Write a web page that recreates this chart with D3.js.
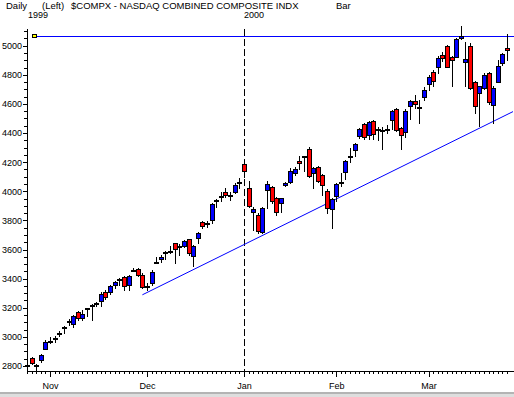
<!DOCTYPE html>
<html>
<head>
<meta charset="utf-8">
<script src="https://d3js.org/d3.v7.min.js"></script>
<style>
  body { margin: 0; background: #fff; }
  svg { display: block; font-family: "Liberation Sans", Arial, sans-serif; }
  text { fill: #000; }
</style>
</head>
<body>
<svg id="chart" width="514" height="397"></svg>
<script>
const firstDay = "1999-10-25",
lastDay = "2000-03-24";

// market holidays, plus Dec 30 which has no bar on this chart
const closedDays = ["1999-11-25", "1999-12-24", "1999-12-30", "2000-01-17", "2000-02-21"];

const open = [2805, 2853, 2810, 2837, 2920, 2972, 2990, 3025, 3064, 3110,
  3084, 3171, 3130, 3196, 3221, 3233, 3245, 3310, 3310, 3358,
  3399, 3414, 3358, 3461, 3464, 3428, 3349, 3375, 3516, 3533,
  3585, 3589, 3643, 3624, 3627, 3670, 3556, 3677, 3787, 3784,
  3799, 3940, 3967, 3998, 3974, 3994, 4066, 4188, 4021, 3856,
  3838, 3716, 4005, 4028, 3952, 3918, 4049, 4062, 4124, 4209,
  4238, 4289, 4129, 4170, 4113, 4005, 3877, 3966, 4066, 4136,
  4242, 4280, 4376, 4461, 4392, 4486, 4430, 4421, 4426, 4491,
  4564, 4433, 4411, 4589, 4621, 4577, 4651, 4736, 4818, 4853,
  4937, 4995, 4925, 4921, 5055, 4885, 4999, 4754, 4670, 4708,
  4811, 4589, 4754, 4880, 4983];

const high = [2820, 2862, 2814, 2881, 2980, 2998, 3008, 3042, 3075, 3125,
  3150, 3181, 3185, 3201, 3229, 3243, 3305, 3319, 3358, 3383,
  3407, 3419, 3427, 3473, 3473, 3437, 3373, 3460, 3551, 3563,
  3590, 3625, 3645, 3636, 3666, 3675, 3632, 3723, 3799, 3797,
  3923, 3946, 3998, 4021, 3998, 4055, 4090, 4192, 4071, 3895,
  3849, 3890, 4071, 4037, 3964, 3955, 4067, 4159, 4170, 4239,
  4242, 4307, 4170, 4175, 4120, 4014, 3952, 4056, 4124, 4216,
  4296, 4330, 4433, 4468, 4484, 4491, 4440, 4440, 4456, 4560,
  4571, 4440, 4564, 4628, 4663, 4628, 4713, 4800, 4834, 4926,
  4960, 5006, 4930, 5052, 5132, 5022, 5018, 4759, 4724, 4811,
  4818, 4720, 4903, 4949, 5080];

const low = [2795, 2812, 2768, 2825, 2915, 2957, 2968, 3008, 3026, 3084,
  3070, 3118, 3118, 3145, 3118, 3215, 3215, 3261, 3293, 3333,
  3354, 3319, 3319, 3450, 3418, 3333, 3322, 3357, 3506, 3517,
  3533, 3574, 3510, 3563, 3616, 3563, 3487, 3643, 3746, 3758,
  3780, 3895, 3934, 3964, 3941, 3987, 4021, 4100, 3895, 3735,
  3712, 3712, 3884, 3923, 3838, 3856, 4039, 4055, 4113, 4154,
  4136, 4097, 4021, 4067, 3975, 3854, 3746, 3930, 4033, 4083,
  4204, 4239, 4369, 4358, 4360, 4358, 4353, 4289, 4399, 4427,
  4417, 4289, 4376, 4495, 4575, 4468, 4628, 4697, 4720, 4812,
  4892, 4853, 4724, 4921, 5045, 4720, 4705, 4541, 4449, 4700,
  4600, 4468, 4750, 4869, 4903];

const close = [2808, 2818, 2809, 2874, 2966, 2973, 2991, 3026, 3065, 3111,
  3141, 3130, 3160, 3197, 3222, 3234, 3296, 3273, 3351, 3376,
  3400, 3349, 3420, 3462, 3425, 3344, 3350, 3448, 3517, 3549,
  3586, 3590, 3602, 3625, 3659, 3574, 3625, 3712, 3762, 3785,
  3911, 3941, 3968, 3980, 3975, 4044, 4067, 4138, 3900, 3879,
  3728, 3884, 4049, 3929, 3856, 3952, 4060, 4136, 4154, 4193,
  4239, 4106, 4163, 4074, 4044, 3891, 3946, 4051, 4067, 4209,
  4243, 4323, 4427, 4369, 4479, 4399, 4431, 4422, 4427, 4553,
  4422, 4383, 4553, 4621, 4598, 4578, 4697, 4784, 4754, 4915,
  4915, 4853, 4903, 5045, 5066, 4907, 4713, 4587, 4720, 4800,
  4612, 4708, 4864, 4942, 4967];

const priceTicks = [2800, 3000, 3200, 3400, 3600, 3800, 4000, 4200, 4400, 4600, 4800, 5000];
const minorStep = 50;

// drawn lines: resistance from late Oct, support from Nov 30 through Mar 24
const resistance = {start: "1999-10-26", price: 5066};
const trendStart = {date: "1999-11-30", price: 3289},
trendEnd = {date: "2000-03-24", price: 4527};

const headerText = ["Daily", "(Left)", "$COMPX - NASDAQ COMBINED COMPOSITE INDX", "Bar"];

const parseDay = d3.timeParse("%Y-%m-%d"),
fmtDay = d3.timeFormat("%Y-%m-%d");

const dates = d3.timeDay.range(parseDay(firstDay), d3.timeDay.offset(parseDay(lastDay), 1))
  .filter(d => d.getDay() % 6 !== 0 && !closedDays.includes(fmtDay(d)))
  .map(fmtDay);

const bars = dates.map((d, i) => ({date: d, o: open[i], h: high[i], l: low[i], c: close[i]}));

// first bar of each month gets a long tick and a label
const monthStarts = dates.filter((d, i) => i > 0 && d.slice(5, 7) !== dates[i - 1].slice(5, 7));
const yearStart = monthStarts.find(d => d.slice(5, 7) === "01");

const plotRight = 513,
plotTop = 29,
axisY = 371;

const x = d3.scalePoint().domain(dates).range([27, 507]);
const y = d3.scaleLinear().domain([2800, 5000]).range([366, 45.7]);

const svg = d3.select("#chart");

svg.append("rect").attr("x", 0).attr("y", 392).attr("width", 514).attr("height", 2).attr("fill", "#b4b4b4");
svg.append("rect").attr("x", 0).attr("y", 394).attr("width", 514).attr("height", 3).attr("fill", "#dedede");

// header
let headerX = [6, 42, 71, 336];
svg.selectAll(".header")
  .data(headerText)
  .join("text")
  .attr("class", "header")
  .attr("x", (d, i) => headerX[i])
  .attr("y", 9)
  .attr("font-size", 9.5)
  .text(d => d);

svg.append("text").attr("x", 28).attr("y", 18).attr("font-size", 9).text(dates[0].slice(0, 4));
svg.append("text").attr("x", Math.round(x(yearStart))).attr("y", 18).attr("font-size", 9).text(yearStart.slice(0, 4));

// y axis
let minorTicks = d3.range(2800, 5101, minorStep).filter(v => !priceTicks.includes(v));

let yMinor = svg.append("g")
  .attr("transform", "translate(27,0)")
  .call(d3.axisLeft(y).tickValues(minorTicks).tickSize(3).tickFormat(""));

let yMajor = svg.append("g")
  .attr("transform", "translate(27,0)")
  .call(d3.axisLeft(y).tickValues(priceTicks).tickSize(4).tickPadding(1).tickFormat(d3.format("d")));

[yMinor, yMajor].forEach(g => {
  g.select(".domain").remove();
  g.attr("font-family", null).attr("font-size", 9).attr("shape-rendering", "crispEdges");
});

svg.append("line")
  .attr("x1", 27.5).attr("x2", 27.5)
  .attr("y1", plotTop).attr("y2", axisY + 1)
  .attr("stroke", "#000")
  .attr("shape-rendering", "crispEdges");

// x axis
let xMinor = svg.append("g")
  .attr("transform", `translate(0,${axisY})`)
  .call(d3.axisBottom(x).tickValues(dates).tickSize(3).tickFormat(""));

let xMajor = svg.append("g")
  .attr("transform", `translate(0,${axisY})`)
  .call(d3.axisBottom(x).tickValues(monthStarts).tickSize(6).tickPadding(6)
    .tickFormat(d => d3.timeFormat("%b")(parseDay(d))));

[xMinor, xMajor].forEach(g => {
  g.select(".domain").remove();
  g.attr("font-family", null).attr("font-size", 9).attr("shape-rendering", "crispEdges");
});

svg.append("line")
  .attr("x1", 27).attr("x2", 514)
  .attr("y1", axisY + 0.5).attr("y2", axisY + 0.5)
  .attr("stroke", "#000")
  .attr("shape-rendering", "crispEdges");

// year divider
svg.append("line")
  .attr("x1", Math.round(x(yearStart)) + 0.5).attr("x2", Math.round(x(yearStart)) + 0.5)
  .attr("y1", plotTop).attr("y2", axisY)
  .attr("stroke", "#000")
  .attr("stroke-dasharray", "7,3")
  .attr("shape-rendering", "crispEdges");

// support line, extended to the right edge
let tx1 = x(trendStart.date), ty1 = y(trendStart.price),
tx2 = x(trendEnd.date), ty2 = y(trendEnd.price),
slope = (ty2 - ty1) / (tx2 - tx1);

svg.append("line")
  .attr("x1", tx1).attr("y1", ty1)
  .attr("x2", plotRight).attr("y2", ty1 + slope * (plotRight - tx1))
  .attr("stroke", "#0000ff")
  .attr("stroke-width", 1);

// resistance line
let ry = Math.round(y(resistance.price)) + 0.5;
svg.append("line")
  .attr("x1", x(resistance.start)).attr("x2", plotRight + 1)
  .attr("y1", ry).attr("y2", ry)
  .attr("stroke", "#0000ff")
  .attr("shape-rendering", "crispEdges");

// candles
let candles = svg.append("g").attr("shape-rendering", "crispEdges");

candles.selectAll(".wick")
  .data(bars)
  .join("line")
  .attr("class", "wick")
  .attr("x1", d => Math.round(x(d.date)) + 0.5)
  .attr("x2", d => Math.round(x(d.date)) + 0.5)
  .attr("y1", d => Math.round(y(d.h)))
  .attr("y2", d => Math.round(y(d.l)) + 1)
  .attr("stroke", "#000");

candles.selectAll(".body")
  .data(bars)
  .join("rect")
  .attr("class", "body")
  .attr("x", d => Math.round(x(d.date)) - 2 + 0.5)
  .attr("width", 4)
  .attr("y", d => Math.round(y(Math.max(d.o, d.c))) + 0.5)
  .attr("height", d => Math.max(1, Math.round(Math.abs(y(d.o) - y(d.c)))))
  .attr("fill", d => d.c > d.o ? "#0000ff" : d.c < d.o ? "#ff0000" : "#000")
  .attr("stroke", "#000");

// handle on the resistance line
svg.append("rect")
  .attr("x", Math.round(x(resistance.start)) + 0.5)
  .attr("y", ry - 2)
  .attr("width", 4)
  .attr("height", 3)
  .attr("fill", "#ffff00")
  .attr("stroke", "#000")
  .attr("shape-rendering", "crispEdges");
</script>
</body>
</html>
